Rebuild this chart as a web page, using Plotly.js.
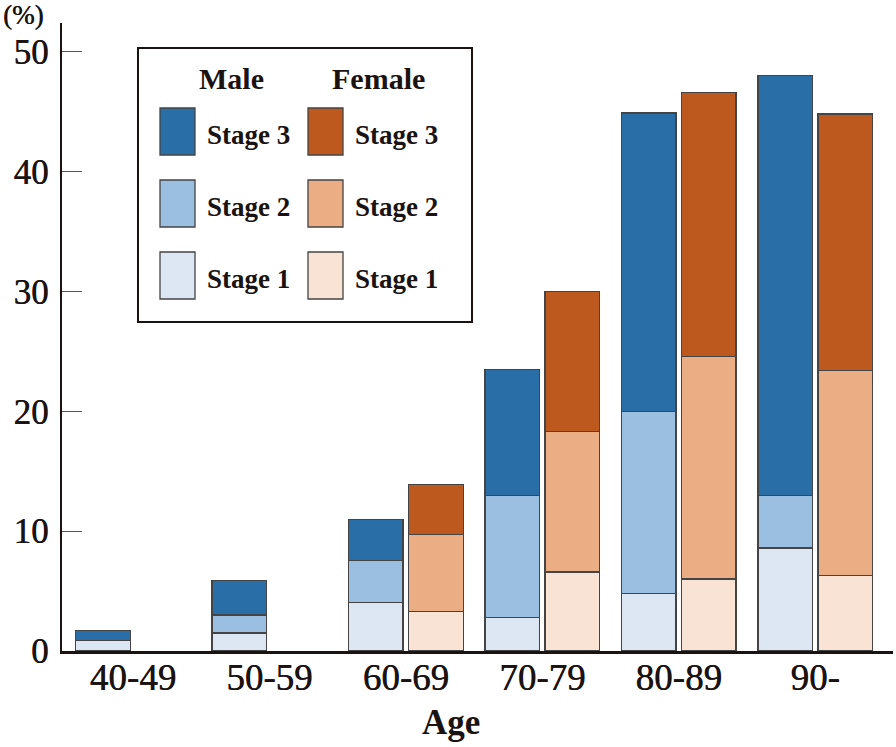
<!DOCTYPE html>
<html>
<head>
<meta charset="utf-8">
<script src="https://cdn.plot.ly/plotly-3.0.1.min.js"></script>
<style>
  body { margin: 0; background: #fff; }
  #chart { width: 896px; height: 747px; }
</style>
</head>
<body>
<div id="chart"></div>
<script>
const ageGroups = ['40-49', '50-59', '60-69', '70-79', '80-89', '90-'];
const stages    = ['Stage 1', 'Stage 2', 'Stage 3'];

// values, %
const maleStage1   = [0.85, 1.5, 4.05, 2.8, 4.8, 8.6];
const maleStage2   = [0,    1.5, 3.5, 10.2, 15.2, 4.4];
const maleStage3   = [0.85, 2.9, 3.45, 10.5, 24.9, 35.0];
const femaleStage1 = [null, null, 3.3, 6.6, 6.0, 6.3];
const femaleStage2 = [null, null, 6.4, 11.7, 18.6, 17.1];
const femaleStage3 = [null, null, 4.2, 11.7, 22.0, 21.4];

const maleColors   = ['#dce7f3', '#9bbfe0', '#2a6ea8'];
const femaleColors = ['#f8e3d4', '#eaad84', '#bd581e'];

const TXT = '#1a1311';
const SERIF = 'Liberation Serif, Times New Roman, serif';
const HEAVY = '0.5px 0 0 #1a1311';

// plot area in pixels
const W = 896, H = 747;
const M = { l: 62, r: 3, t: 23, b: 96 };
const PW = W - M.l - M.r, PH = H - M.t - M.b;
const px = x => (x - M.l) / PW;
const py = y => (H - M.b - y) / PH;

const OFF = 0.22, BW = 0.4;
const maleX   = ageGroups.map((_, i) => i - OFF);
const femaleX = ageGroups.map((_, i) => i + OFF);

const maleData   = [maleStage1, maleStage2, maleStage3];
const femaleData = [femaleStage1, femaleStage2, femaleStage3];

const traces = [];
stages.forEach((s, k) => {
    traces.push({
        type: 'bar', x: maleX, y: maleData[k], width: BW,
        name: 'Male ' + s,
        marker: { color: maleColors[k], line: { color: '#444', width: 1.3 } },
        hoverinfo: 'y'
    });
    traces.push({
        type: 'bar', x: femaleX, y: femaleData[k], width: BW,
        name: 'Female ' + s,
        marker: { color: femaleColors[k], line: { color: '#444', width: 1.3 } },
        hoverinfo: 'y'
    });
});

// hand-built legend box
const shapes = [{
    type: 'rect', xref: 'paper', yref: 'paper',
    x0: px(138), x1: px(472), y0: py(322), y1: py(48),
    line: { color: '#1a1311', width: 2 }, fillcolor: '#fff', layer: 'above'
}];
const annotations = [
    { text: '(%)', xref: 'paper', yref: 'paper', x: px(2), y: py(15),
      xanchor: 'left', yanchor: 'middle', showarrow: false, borderpad: 0,
      font: { family: SERIF, size: 27, color: TXT, shadow: HEAVY } },
    { text: '<b>Age</b>', xref: 'paper', yref: 'paper', x: px(451), y: py(722),
      xanchor: 'center', yanchor: 'middle', showarrow: false,
      font: { family: SERIF, size: 35, color: TXT } },
    { text: '<b>Male</b>', xref: 'paper', yref: 'paper', x: px(231), y: py(78),
      xanchor: 'center', yanchor: 'middle', showarrow: false,
      font: { family: SERIF, size: 30, color: TXT } },
    { text: '<b>Female</b>', xref: 'paper', yref: 'paper', x: px(378), y: py(78),
      xanchor: 'center', yanchor: 'middle', showarrow: false,
      font: { family: SERIF, size: 30, color: TXT } }
];
const rowTop = [252, 180, 108]; // stage 1, 2, 3
stages.forEach((s, k) => {
    [[160, 205, maleColors[k]], [308, 353, femaleColors[k]]].forEach(([sx, tx, c]) => {
        shapes.push({
            type: 'rect', xref: 'paper', yref: 'paper',
            x0: px(sx), x1: px(sx + 35), y0: py(rowTop[k] + 47), y1: py(rowTop[k]),
            line: { color: '#444', width: 1.3 }, fillcolor: c, layer: 'above'
        });
        annotations.push({
            text: '<b>' + s + '</b>', xref: 'paper', yref: 'paper',
            x: px(tx), y: py(rowTop[k] + 27), xanchor: 'left', yanchor: 'middle',
            showarrow: false, font: { family: SERIF, size: 27, color: TXT }
        });
    });
});

const layout = {
    width: W, height: H,
    margin: M,
    barmode: 'stack',
    showlegend: false,
    paper_bgcolor: '#fff', plot_bgcolor: '#fff',
    font: { family: SERIF, color: TXT },
    xaxis: {
        range: [-0.52, 5.57],
        tickvals: ageGroups.map((_, i) => i), ticktext: ageGroups,
        ticks: '', showgrid: false, zeroline: false,
        showline: true, linecolor: '#1a1311', linewidth: 3,
        ticklabelstandoff: -8,
        tickfont: { family: SERIF, size: 37, color: TXT, shadow: HEAVY }
    },
    yaxis: {
        range: [0, 52.4],
        tickvals: [0, 10, 20, 30, 40, 50],
        ticks: 'inside', ticklen: 20, tickwidth: 1, tickcolor: '#555',
        showgrid: false, zeroline: false,
        showline: true, linecolor: '#1a1311', linewidth: 2.5,
        ticklabelstandoff: 4,
        tickfont: { family: SERIF, size: 35, color: TXT, shadow: HEAVY }
    },
    shapes: shapes,
    annotations: annotations
};

Plotly.newPlot('chart', traces, layout, { displayModeBar: false, staticPlot: true });
</script>
</body>
</html>
